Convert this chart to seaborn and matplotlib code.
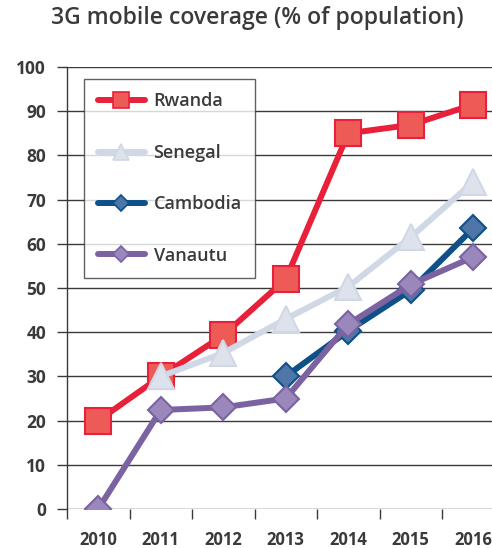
import numpy as np
import pandas as pd
import matplotlib.pyplot as plt
import seaborn as sns
from matplotlib.lines import Line2D

years = ['2010', '2011', '2012', '2013', '2014', '2015', '2016']
rwanda = [20, 30, 39.3, 52, 85, 86.9, 91.5]
senegal = [np.nan, 30, 35.3, 43, 50.3, 61.5, 74]
cambodia = [np.nan, np.nan, np.nan, 30, 40.3, 49.5, 63.5]
vanautu = [0, 22.4, 23, 25, 41.8, 50.8, 57]

series = [
    ('Rwanda', rwanda, '#e8203a', '#ee5b57', 's', 19),
    ('Senegal', senegal, '#d0d8e6', '#dde2ed', '^', 19),
    ('Cambodia', cambodia, '#0e5088', '#4e76a8', 'D', 13),
    ('Vanautu', vanautu, '#7b62a0', '#9a88bd', 'D', 13),
]

sns.set_style('white')
plt.rcParams['font.family'] = ['Open Sans', 'DejaVu Sans']
txt = '#3a3a3a'

fig = plt.figure(figsize=(4.92, 5.48), dpi=100)
ax = fig.add_axes([67/492, 39/548, 437.5/492, 442/548])

handles = []
for name, vals, lc, fc, mk, ms in series:
    df = pd.DataFrame({'x': np.arange(len(years)), 'y': vals}).dropna()
    sns.lineplot(data=df, x='x', y='y', ax=ax, color=lc, linewidth=4.3,
                 marker=mk, markersize=ms, markerfacecolor=fc,
                 markeredgecolor=lc, markeredgewidth=1.5, zorder=3)
    handles.append(Line2D([], [], color=lc, linewidth=4.3, marker=mk,
                          markersize=ms * 0.62, markerfacecolor=fc,
                          markeredgecolor=lc, markeredgewidth=1.2, label=name))

ax.set_xlim(-0.5, 6.5)
ax.set_ylim(0, 100)
ax.set_yticks(range(0, 101, 10))
ax.set_xticks(range(len(years)))
ax.set_xticklabels(years)
ax.set_xticks(np.arange(-0.5, 6.6, 1), minor=True)
ax.yaxis.grid(True, color='#3a3a3a', linewidth=1)
ax.set_axisbelow(True)
for s in ['top', 'right', 'bottom']:
    ax.spines[s].set_visible(False)
ax.spines['left'].set_color('#3a3a3a')
ax.spines['left'].set_linewidth(1)
ax.tick_params(axis='y', which='major', left=True, length=7, width=1,
               color='#3a3a3a', labelsize=12.5, labelcolor=txt, pad=8)
ax.tick_params(axis='x', which='major', bottom=False, labelsize=12,
               labelcolor=txt, pad=12.5)
ax.tick_params(axis='x', which='minor', bottom=True, length=7, width=1,
               color='#3a3a3a')
for lab in ax.get_xticklabels() + ax.get_yticklabels():
    lab.set_fontweight('bold')
ax.set_xlabel('')
ax.set_ylabel('')

leg = ax.legend(handles=handles, loc='upper left', bbox_to_anchor=(0.039, 0.973),
                frameon=True, fancybox=False, handlelength=2.6,
                labelspacing=1.85, borderpad=0.75, handletextpad=0.5,
                prop={'size': 13, 'weight': 'semibold'}, borderaxespad=0)
leg.get_frame().set_edgecolor('#3a3a3a')
leg.get_frame().set_linewidth(1)
for t in leg.get_texts():
    t.set_color(txt)

fig.text(0.522, 0.967, '3G mobile coverage (% of population)', ha='center',
         va='center', fontsize=16.6, color=txt, fontweight='semibold')

fig.savefig('out.png', dpi=100)
